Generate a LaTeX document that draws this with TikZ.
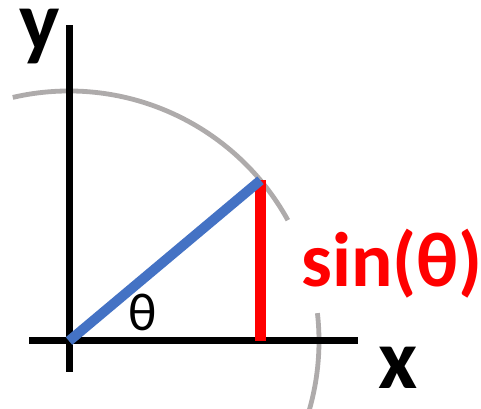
\documentclass[tikz,border=0pt]{standalone}
\usepackage{fontspec}
\setmainfont{Carlito}
\usetikzlibrary{calc}
\definecolor{arcgray}{HTML}{AEABAB}
\definecolor{radblue}{HTML}{4472C4}

\begin{document}
\begin{tikzpicture}[
    x=0.75pt, y=0.75pt,
    axis/.style={line width=5.25pt, black},
    circ/.style={line width=3.6pt, arcgray},
    radial/.style={line width=7.5pt, radblue},
    sine/.style={line width=8.25pt, red},
    axislabel/.style={font=\fontsize{64}{64}\selectfont\bfseries, inner sep=0pt}
]
\useasboundingbox (0,0) rectangle (481,409);

% origin and point on the unit circle
\coordinate (O) at (69,68);
\coordinate (P) at ($(O)+(40:250)$);
\coordinate (Xl) at (29,68);
\coordinate (Xr) at (358,68);
\coordinate (Yt) at (69,384);
\coordinate (Yb) at (69,37);

% circle, broken behind the label
\draw[circ] ($(O)+(-17:250)$) arc[start angle=-17, end angle=6.4, radius=250];
\draw[circ] ($(O)+(28.9:250)$) arc[start angle=28.9, end angle=103, radius=250];

% axes
\draw[axis] (Xl) -- (Xr);
\draw[axis] (Yb) -- (Yt);

% sine and radius
\draw[sine] (P) -- (P |- O);
\draw[radial] (O) -- (P);

% labels
\node[axislabel] (ylab) at (40,372) {y};
\node[axislabel] (xlab) at (398.5,41.5) {x};
\node[inner sep=0pt, font=\fontsize{40}{40}\selectfont] (theta) at (143,96.5) {θ};
\node[inner sep=0pt, text=red, font=\fontsize{58}{58}\selectfont\bfseries] (sinlab) at (392,145.5) {sin(θ)};

\end{tikzpicture}
\end{document}
